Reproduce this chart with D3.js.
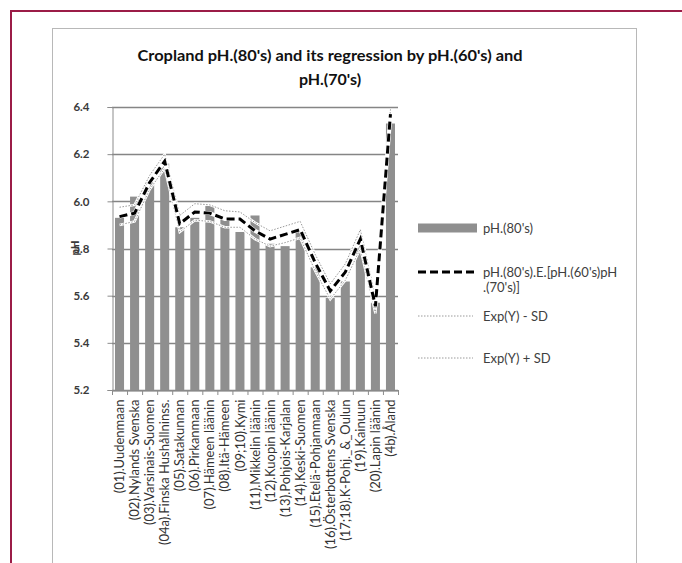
<!DOCTYPE html>
<html>
<head>
<meta charset="utf-8">
<script src="https://cdn.jsdelivr.net/npm/d3@7"></script>
<style>
  html, body { margin: 0; padding: 0; background: #fff; }
  svg { display: block; }
</style>
</head>
<body>
<svg id="chart" width="682" height="563"></svg>
<script>
// ---------------- data ----------------
const categories = [
  "(01).Uudenmaan", "(02).Nylands Svenska", "(03).Varsinais-Suomen",
  "(04a).Finska Hushållninss.", "(05).Satakunnan", "(06).Pirkanmaan",
  "(07).Hämeen läänin", "(08).Itä-Hämeen", "(09;10).Kymi",
  "(11).Mikkelin läänin", "(12).Kuopin läänin", "(13).Pohjois-Karjalan",
  "(14).Keski-Suomen", "(15).Etelä-Pohjanmaan", "(16).Österbottens Svenska",
  "(17;18).K-Pohj._&_Oulun", "(19).Kainuun", "(20).Lapin läänin", "(4b).Åland"
];
const ph80 = [5.93, 6.02, 6.08, 6.16, 5.89, 5.93, 5.98, 5.93, 5.87, 5.94,
              5.82, 5.81, 5.87, 5.72, 5.59, 5.66, 5.82, 5.57, 6.33];
const expected = [5.935, 5.95, 6.08, 6.17, 5.905, 5.955, 5.95, 5.925, 5.925, 5.875,
                  5.84, 5.86, 5.88, 5.74, 5.62, 5.70, 5.84, 5.555, 6.37];
const expMinusSD = [5.90, 5.915, 6.05, 6.14, 5.87, 5.92, 5.915, 5.89, 5.89, 5.84,
                    5.81, 5.825, 5.845, 5.705, 5.585, 5.665, 5.80, 5.525, 6.35];
const expPlusSD = [5.975, 5.985, 6.11, 6.20, 5.94, 5.99, 5.985, 5.96, 5.955, 5.91,
                   5.875, 5.895, 5.915, 5.775, 5.65, 5.735, 5.88, 5.59, 6.39];
const yTicks = [5.2, 5.4, 5.6, 5.8, 6.0, 6.2, 6.4];
const titleLines = ["Cropland pH.(80's) and its regression by pH.(60's) and", "pH.(70's)"];
const yLabel = "pH";
const legendLabels = ["pH.(80's)", ["pH.(80's).E.[pH.(60's)pH", ".(70's)]"], "Exp(Y) - SD", "Exp(Y) + SD"];

// ---------------- drawing ----------------
const svg = d3.select("#chart");
const FONT = "Lato, 'Liberation Sans', sans-serif";

// outer maroon frame
svg.append("line").attr("x1", 10).attr("y1", 11).attr("x2", 682).attr("y2", 11)
  .attr("stroke", "#9b1c47").attr("stroke-width", 2);
svg.append("line").attr("x1", 11).attr("y1", 10).attr("x2", 11).attr("y2", 563)
  .attr("stroke", "#9b1c47").attr("stroke-width", 2);

// chart area box
svg.append("rect").attr("x", 52.5).attr("y", 28.5).attr("width", 584).attr("height", 560)
  .attr("fill", "#fff").attr("stroke", "#b8b8b8").attr("stroke-width", 1);

// title
const title = svg.append("text").attr("text-anchor", "middle")
  .attr("font-family", FONT).attr("font-weight", "bold").attr("font-size", 16)
  .attr("fill", "#111");
title.append("tspan").attr("x", 330).attr("y", 61).attr("textLength", 385)
  .attr("lengthAdjust", "spacingAndGlyphs").text(titleLines[0]);
title.append("tspan").attr("x", 330).attr("y", 85).text(titleLines[1]);

const plot = { left: 112, right: 398, top: 107, bottom: 390 };

const x = d3.scaleBand().domain(categories)
  .range([plot.left, plot.right]).paddingInner(0.4).paddingOuter(0.2);
const y = d3.scaleLinear().domain([5.2, 6.4]).range([plot.bottom, plot.top]);

// gridlines
svg.append("g").selectAll("line").data(yTicks).join("line")
  .attr("x1", plot.left).attr("x2", plot.right)
  .attr("y1", d => Math.round(y(d)) + 0.5).attr("y2", d => Math.round(y(d)) + 0.5)
  .attr("stroke", "#858585").attr("stroke-width", 1.3);

// y axis
const yAxis = d3.axisLeft(y).tickValues(yTicks).tickFormat(d3.format(".1f")).tickSize(5).tickPadding(18);
const gy = svg.append("g").attr("transform", `translate(${plot.left + 0.5},0)`).call(yAxis);
gy.select(".domain").attr("stroke", "#8c8c8c");
gy.selectAll(".tick line").attr("stroke", "#8c8c8c");
gy.selectAll(".tick text").attr("font-family", FONT).attr("font-size", 11.5)
  .attr("font-weight", "bold").attr("fill", "#3a3a3a");

// bars
svg.append("g").selectAll("rect").data(ph80).join("rect")
  .attr("x", (d, i) => x(categories[i]))
  .attr("width", x.bandwidth())
  .attr("y", d => y(d))
  .attr("height", d => y(5.2) - y(d))
  .attr("fill", "#8f8f8f");

// x axis
const xAxis = d3.axisBottom(x).tickSize(0).tickPadding(6);
const gx = svg.append("g").attr("transform", `translate(0,${plot.bottom + 0.5})`).call(xAxis);
gx.select(".domain").attr("stroke", "#8c8c8c");
gx.selectAll(".tick text")
  .attr("font-family", FONT).attr("font-size", 13).attr("fill", "#333")
  .attr("text-anchor", "end")
  .attr("x", -9).attr("y", 0)
  .attr("dy", "0.35em")
  .attr("transform", "rotate(-90)");
// boundary tick marks
const step = x.step();
const bounds = d3.range(categories.length + 1).map(i => plot.left + i * step);
svg.append("g").selectAll("line").data(bounds).join("line")
  .attr("x1", d => d + 0.5).attr("x2", d => d + 0.5)
  .attr("y1", plot.bottom).attr("y2", plot.bottom + 5)
  .attr("stroke", "#8c8c8c");

// lines
const cx = (d, i) => x(categories[i]) + x.bandwidth() / 2;
const line = d3.line().x(cx).y(d => y(d));
function drawSD(data) {
  svg.append("path").datum(data).attr("d", line).attr("fill", "none")
    .attr("stroke", "#fff").attr("stroke-width", 2.5);
  svg.append("path").datum(data).attr("d", line).attr("fill", "none")
    .attr("stroke", "#9a9a9a").attr("stroke-width", 1).attr("stroke-dasharray", "1.5,1.5");
}
drawSD(expMinusSD);
drawSD(expPlusSD);
svg.append("path").datum(expected).attr("d", line).attr("fill", "none")
  .attr("stroke", "#fff").attr("stroke-width", 4);
svg.append("path").datum(expected).attr("d", line).attr("fill", "none")
  .attr("stroke", "#000").attr("stroke-width", 3).attr("stroke-dasharray", "8,4");

// y label (overlaps the 5.8 label, as in the original)
svg.append("text").attr("transform", "translate(79,248) rotate(-90)")
  .attr("text-anchor", "middle").attr("font-family", FONT).attr("font-size", 11.5)
  .attr("font-weight", "bold").attr("fill", "#3a3a3a").text(yLabel);

// legend
const lg = svg.append("g").attr("font-family", FONT).attr("font-size", 13).attr("fill", "#404040");
const lx1 = 418, lx2 = 477, tx = 483;
const rows = [228, 272, 316, 358];
lg.append("rect").attr("x", lx1).attr("y", rows[0] - 4.5).attr("width", lx2 - lx1).attr("height", 9).attr("fill", "#8f8f8f");
lg.append("line").attr("x1", lx1).attr("x2", lx2).attr("y1", rows[1]).attr("y2", rows[1])
  .attr("stroke", "#000").attr("stroke-width", 3).attr("stroke-dasharray", "8,4");
[2, 3].forEach(k => {
  lg.append("line").attr("x1", lx1).attr("x2", lx2 - 4).attr("y1", rows[k]).attr("y2", rows[k])
    .attr("stroke", "#9a9a9a").attr("stroke-width", 1).attr("stroke-dasharray", "1.5,1.5");
});
lg.append("text").attr("x", tx).attr("y", rows[0] + 4.5).text(legendLabels[0]);
const t2 = lg.append("text");
t2.append("tspan").attr("x", tx).attr("y", rows[1] + 4.5).text(legendLabels[1][0]);
t2.append("tspan").attr("x", tx).attr("y", rows[1] + 20).text(legendLabels[1][1]);
lg.append("text").attr("x", tx).attr("y", rows[2] + 4.5).text(legendLabels[2]);
lg.append("text").attr("x", tx).attr("y", rows[3] + 4.5).text(legendLabels[3]);
</script>
</body>
</html>
